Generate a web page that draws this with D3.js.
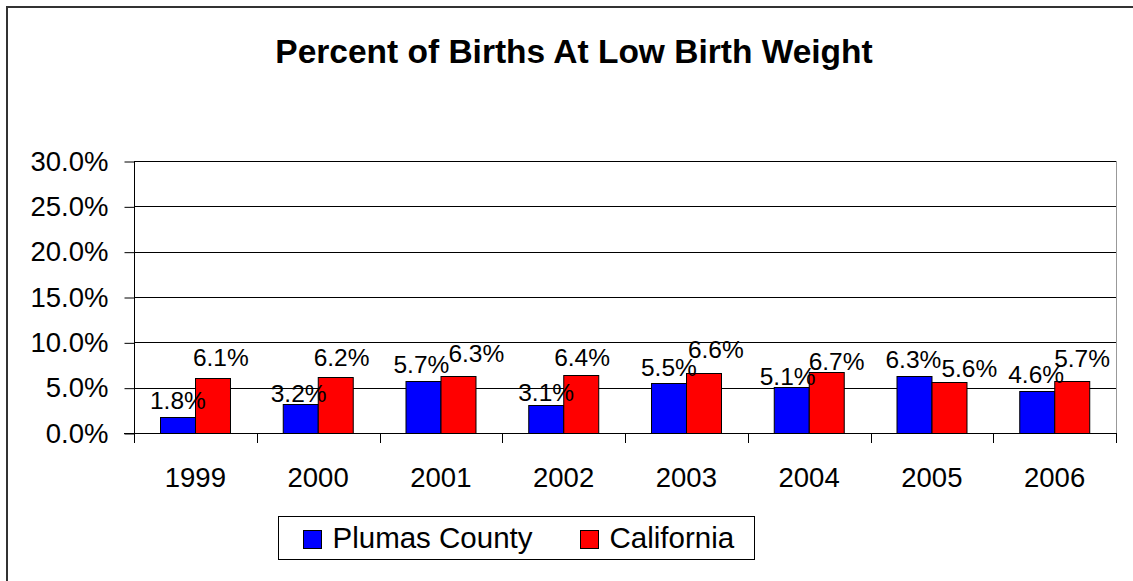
<!DOCTYPE html>
<html>
<head>
<meta charset="utf-8">
<script src="https://cdn.jsdelivr.net/npm/d3@7"></script>
<style>
  body { margin: 0; background: #fff; overflow: hidden; }
  svg { display: block; }
  svg text { font-family: "Liberation Sans", Arial, sans-serif; fill: #000; }
</style>
</head>
<body>
<div id="chart"></div>
<script>
// data
var years = ["1999", "2000", "2001", "2002", "2003", "2004", "2005", "2006"];
var seriesNames = ["Plumas County", "California"];
var plumas = [0.018, 0.032, 0.057, 0.031, 0.055, 0.051, 0.063, 0.046];
var california = [0.061, 0.062, 0.063, 0.064, 0.066, 0.067, 0.056, 0.057];
var yTicks = [0, 0.05, 0.10, 0.15, 0.20, 0.25, 0.30];

// excel left the data labels a bit scattered, [dx, dy] per label
var labelNudge = {
    "Plumas County": [[0,-8],[-2,-2],[-2,-8],[0,-4],[0,-7],[-4,-2],[-1,-8],[-1,-8]],
    "California": [[8,-12],[6,-11],[18,-14],[1,-9],[12,-15],[10,-2],[20,-5],[10,-14]]
};

var colors = { "Plumas County": "#0000ff", "California": "#ff0000" };
var values = { "Plumas County": plumas, "California": california };

var width = 1133, height = 581;
var plot = { left: 134, right: 1116, top: 161, bottom: 433 };

var svg = d3.select("#chart")
    .append("svg")
    .attr("width", width)
    .attr("height", height);

// outer chart frame, only left and top edges are inside the picture
svg.append("path")
    .attr("d", `M7,${height} V7 H${width}`)
    .attr("fill", "none")
    .attr("stroke", "#333")
    .attr("stroke-width", 2);

svg.append("text")
    .attr("x", 574)
    .attr("y", 63)
    .attr("text-anchor", "middle")
    .style("font-size", "33.5px")
    .style("font-weight", "bold")
    .text("Percent of Births At Low Birth Weight");

var x0 = d3.scaleBand()
    .domain(years)
    .range([plot.left, plot.right])
    .paddingInner(0)
    .paddingOuter(0);

var x1 = d3.scaleBand()
    .domain(seriesNames)
    .range([0, x0.bandwidth()])
    .paddingInner(0)
    .paddingOuter(0.754);

var y = d3.scaleLinear()
    .domain([0, 0.30])
    .range([plot.bottom, plot.top]);

// gridlines
svg.append("g")
    .selectAll("line")
    .data(yTicks.filter(d => d > 0))
    .enter()
    .append("line")
    .attr("x1", plot.left)
    .attr("x2", plot.right)
    .attr("y1", d => Math.round(y(d)) + 0.5)
    .attr("y2", d => Math.round(y(d)) + 0.5)
    .attr("stroke", "#000")
    .attr("stroke-width", 1);

// plot area right border
svg.append("line")
    .attr("x1", plot.right + 0.5)
    .attr("x2", plot.right + 0.5)
    .attr("y1", plot.top)
    .attr("y2", plot.bottom)
    .attr("stroke", "#999");

// y axis
var leftAxis = d3.axisLeft(y)
    .tickValues(yTicks)
    .tickFormat(d3.format(".1%"))
    .tickSize(10)
    .tickPadding(16);

var yAxis = svg.append("g")
    .attr("transform", `translate(${plot.left + 0.5}, 0.5)`)
    .call(leftAxis);
yAxis.select(".domain").remove();
yAxis.selectAll("line").attr("stroke", "#000");
yAxis.selectAll("text")
    .style("font-size", "27.5px")
    .style("font-family", "Liberation Sans, Arial, sans-serif")
    .attr("fill", "#000");

svg.append("line")
    .attr("x1", plot.left + 0.5)
    .attr("x2", plot.left + 0.5)
    .attr("y1", plot.top)
    .attr("y2", plot.bottom + 10)
    .attr("stroke", "#000");

// bars
var groups = svg.append("g")
    .selectAll("g")
    .data(years)
    .enter()
    .append("g")
    .attr("transform", d => `translate(${x0(d)}, 0)`);

groups.selectAll("rect")
    .data((d, i) => seriesNames.map(s => ({ series: s, value: values[s][i], idx: i })))
    .enter()
    .append("rect")
    .attr("x", d => Math.round(x1(d.series)) + 0.5)
    .attr("y", d => Math.round(y(d.value)) + 0.5)
    .attr("width", x1.bandwidth())
    .attr("height", d => Math.round(y(0)) - Math.round(y(d.value)))
    .attr("fill", d => colors[d.series])
    .attr("stroke", "#000")
    .attr("stroke-width", 1);

groups.selectAll(".bar-label")
    .data((d, i) => seriesNames.map(s => ({ series: s, value: values[s][i], idx: i })))
    .enter()
    .append("text")
    .classed("bar-label", true)
    .attr("x", d => x1(d.series) + x1.bandwidth() / 2 + labelNudge[d.series][d.idx][0])
    .attr("y", d => y(d.value) + labelNudge[d.series][d.idx][1])
    .attr("text-anchor", "middle")
    .style("font-size", "24.5px")
    .text(d => d3.format(".1%")(d.value));

// x axis
var bottomAxis = d3.axisBottom(x0)
    .tickSize(0)
    .tickPadding(34);

var xAxis = svg.append("g")
    .attr("transform", `translate(0, ${plot.bottom + 0.5})`)
    .call(bottomAxis);
xAxis.select(".domain").remove();
xAxis.selectAll("text")
    .style("font-size", "27.5px")
    .style("font-family", "Liberation Sans, Arial, sans-serif")
    .attr("fill", "#000");

svg.append("line")
    .attr("x1", plot.left - 10)
    .attr("x2", plot.right)
    .attr("y1", plot.bottom + 0.5)
    .attr("y2", plot.bottom + 0.5)
    .attr("stroke", "#000");

svg.append("g")
    .selectAll("line")
    .data(years.slice(1).concat([null]))
    .enter()
    .append("line")
    .attr("x1", d => Math.round(d ? x0(d) : plot.right) + 0.5)
    .attr("x2", d => Math.round(d ? x0(d) : plot.right) + 0.5)
    .attr("y1", plot.bottom)
    .attr("y2", plot.bottom + 10)
    .attr("stroke", "#000");

// legend
var legend = svg.append("g")
    .attr("transform", "translate(278.5, 516.5)");

legend.append("rect")
    .attr("width", 476)
    .attr("height", 43)
    .attr("fill", "#fff")
    .attr("stroke", "#000");

var legendX = [25, 302];
var items = legend.selectAll(".legend-item")
    .data(seriesNames)
    .enter()
    .append("g")
    .attr("transform", (d, i) => `translate(${legendX[i]}, 0)`);

items.append("rect")
    .attr("y", 14)
    .attr("width", 18)
    .attr("height", 18)
    .attr("fill", d => colors[d])
    .attr("stroke", "#000");

items.append("text")
    .attr("x", 29)
    .attr("y", 31)
    .style("font-size", "29.5px")
    .text(d => d);
</script>
</body>
</html>
